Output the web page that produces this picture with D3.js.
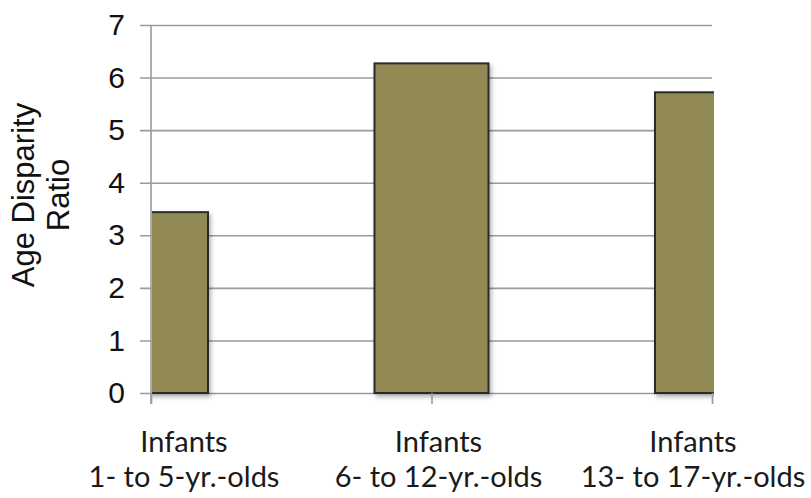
<!DOCTYPE html>
<html>
<head>
<meta charset="utf-8">
<script src="https://cdn.jsdelivr.net/npm/d3@7/dist/d3.min.js"></script>
<style>
  html, body { margin: 0; padding: 0; background: #fff; }
  svg { display: block; }
</style>
</head>
<body>
<svg id="chart" width="811" height="498"></svg>
<script>
// Age disparity ratio by age group
const categories = ["1- to 5-yr.-olds", "6- to 12-yr.-olds", "13- to 17-yr.-olds"];
const groupLabel = ["Infants", "Infants", "Infants"];
const ratios = [3.44, 6.27, 5.72];
const yTicks = [0, 1, 2, 3, 4, 5, 6, 7];

const svg = d3.select("#chart");
const plotLeft = 151, plotRight = 712, plotTop = 25, plotBottom = 393;
const barWidth = 114;

const x = d3.scalePoint().domain(categories).range([plotLeft, plotRight]);
const xLabel = d3.scalePoint().domain(categories).range([184, 693]);
const y = d3.scaleLinear().domain([0, 7]).range([plotBottom, plotTop]);

const defs = svg.append("defs");
const shadow = defs.append("filter").attr("id", "barShadow")
  .attr("x", "-10%").attr("y", "-10%").attr("width", "130%").attr("height", "130%");
shadow.append("feDropShadow")
  .attr("dx", 2).attr("dy", 3).attr("stdDeviation", 2)
  .attr("flood-color", "#000").attr("flood-opacity", 0.3);
defs.append("clipPath").attr("id", "plotClip")
  .append("rect").attr("x", plotLeft + 1).attr("y", 0)
  .attr("width", 714 - plotLeft - 1).attr("height", plotBottom + 12);

// Gridlines and y-axis
const yAxis = svg.append("g")
  .attr("transform", `translate(${plotLeft},0)`)
  .call(d3.axisLeft(y).tickValues(yTicks).tickFormat(d3.format("d"))
    .tickSizeInner(-(plotRight - plotLeft)).tickSizeOuter(0).tickPadding(26));
yAxis.select(".domain").remove();
yAxis.selectAll(".tick line")
  .attr("x1", -11).attr("stroke", "#9a9a9a").attr("stroke-width", 1.6);
yAxis.selectAll(".tick text")
  .attr("font-family", "'Liberation Sans', Arial, sans-serif")
  .attr("font-size", 30).attr("fill", "#111");

// Bars
svg.append("g").attr("clip-path", "url(#plotClip)")
  .selectAll("rect").data(categories).join("rect")
  .attr("x", d => x(d) - barWidth / 2)
  .attr("y", (d, i) => y(ratios[i]))
  .attr("width", barWidth)
  .attr("height", (d, i) => y(0) - y(ratios[i]))
  .attr("fill", "#928a55")
  .attr("stroke", "#2a2a2a").attr("stroke-width", 2)
  .attr("filter", "url(#barShadow)");

// Vertical axis line
svg.append("line")
  .attr("x1", plotLeft).attr("x2", plotLeft).attr("y1", plotTop).attr("y2", plotBottom + 11)
  .attr("stroke", "#9a9a9a").attr("stroke-width", 1.6);

// Category ticks
const xAxis = svg.append("g")
  .attr("transform", `translate(0,${plotBottom})`)
  .call(d3.axisBottom(x).tickSize(11).tickFormat(""));
xAxis.select(".domain").remove();
xAxis.selectAll(".tick line").attr("stroke", "#9a9a9a").attr("stroke-width", 1.6);

// Two-line category labels, one text per line
const labelFont = { family: "Lato, 'Open Sans', sans-serif", size: 29 };
svg.append("g").selectAll("text").data(categories).join("text")
  .attr("x", d => xLabel(d)).attr("y", 452)
  .attr("text-anchor", "middle")
  .attr("font-family", labelFont.family).attr("font-size", labelFont.size)
  .attr("fill", "#1a1a1a")
  .text((d, i) => groupLabel[i]);
svg.append("g").selectAll("text").data(categories).join("text")
  .attr("x", d => xLabel(d)).attr("y", 487)
  .attr("text-anchor", "middle")
  .attr("font-family", labelFont.family).attr("font-size", labelFont.size)
  .attr("fill", "#1a1a1a")
  .text(d => d);

// Y-axis title
const yTitle = svg.append("text")
  .attr("transform", "translate(0,195) rotate(-90)")
  .attr("text-anchor", "middle")
  .attr("font-family", "'Liberation Sans', Arial, sans-serif")
  .attr("font-size", 31).attr("fill", "#111");
yTitle.append("tspan").attr("x", 0).attr("y", 34).text("Age Disparity");
yTitle.append("tspan").attr("x", 0).attr("y", 69).text("Ratio");
</script>
</body>
</html>
